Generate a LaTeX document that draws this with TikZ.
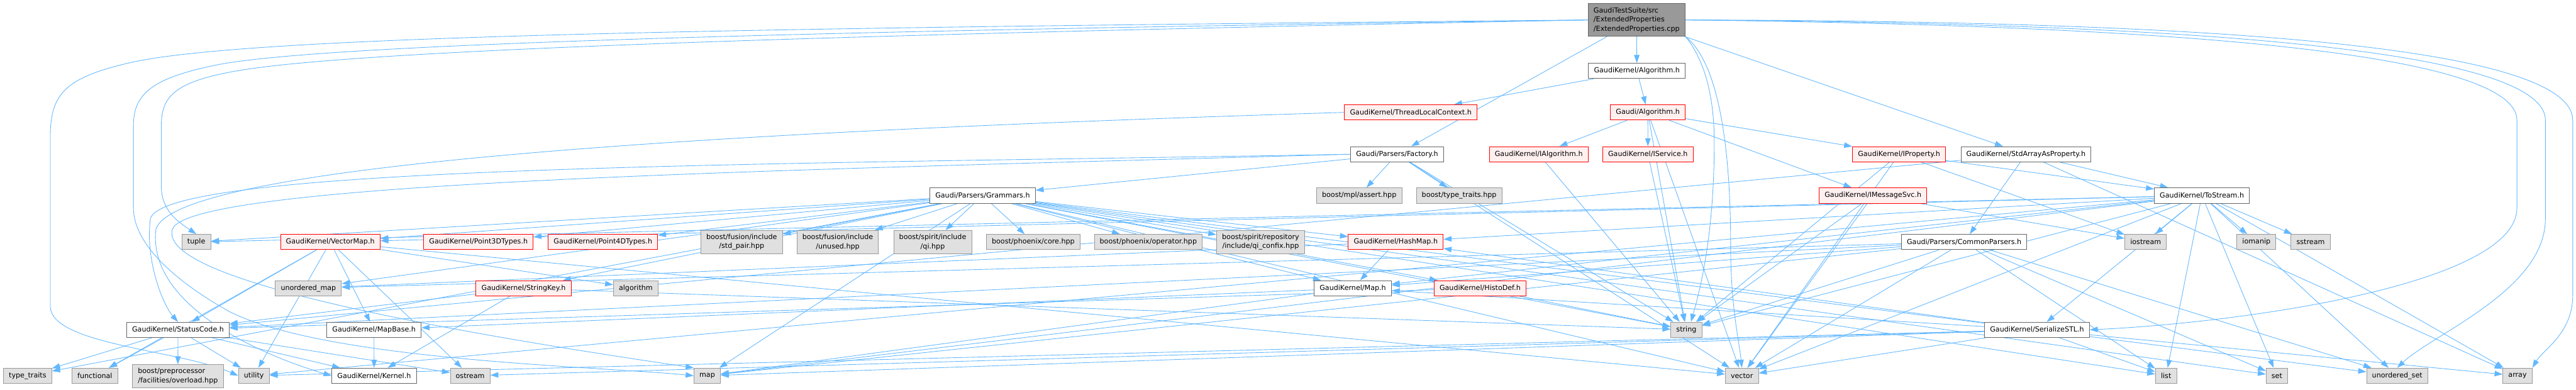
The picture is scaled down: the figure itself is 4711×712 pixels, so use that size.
\documentclass[tikz,border=0pt]{standalone}
\usepackage{fontspec}
\setmainfont{DejaVu Sans}
\usepackage{tikz}
\usetikzlibrary{arrows.meta, backgrounds}
\usepackage{xcolor}
\definecolor{edgeblue}{RGB}{99, 184, 255}
\definecolor{sysfill}{RGB}{224, 224, 224}
\definecolor{sysdraw}{RGB}{153, 153, 153}
\definecolor{srcdraw}{RGB}{102, 102, 102}
\definecolor{trunfill}{RGB}{255, 240, 240}
\definecolor{rootfill}{RGB}{153, 153, 153}

\tikzset{
    incbox/.style={draw, rectangle, line width=0.8pt, font=\fontsize{9.6}{12.6}\selectfont,
        inner xsep=7.5pt, inner ysep=5pt, minimum height=21pt, align=center},
    sysbox/.style={incbox, fill=sysfill, draw=sysdraw},
    srcbox/.style={incbox, fill=white, draw=srcdraw},
    trunbox/.style={incbox, fill=trunfill, draw=red},
    rootbox/.style={incbox, fill=rootfill, draw=srcdraw, align=left},
    dep/.style={draw=edgeblue, line width=0.75pt, -{Triangle[length=11pt, width=7.5pt]}}
}

\begin{document}
\begin{tikzpicture}[x=0.75pt, y=-0.75pt]
    \useasboundingbox (0,0) rectangle (4711,712);

    % file nodes, by rank
    \node[rootbox] (root) at (2993,36.5) {GaudiTestSuite/src\\/ExtendedProperties\\/ExtendedProperties.cpp};
    \node[srcbox] (gkalg) at (2993.5,129.7) {GaudiKernel/Algorithm.h};
    \node[trunbox] (tlc) at (2580,205.5) {GaudiKernel/ThreadLocalContext.h};
    \node[trunbox] (galg) at (3013.5,205.5) {Gaudi/Algorithm.h};
    \node[srcbox] (factory) at (2555,282) {Gaudi/Parsers/Factory.h};
    \node[trunbox] (ialg) at (2814,282) {GaudiKernel/IAlgorithm.h};
    \node[trunbox] (isvc) at (3013.7,282) {GaudiKernel/IService.h};
    \node[trunbox] (iprop) at (3473,282) {GaudiKernel/IProperty.h};
    \node[srcbox] (stdarr) at (3705,282) {GaudiKernel/StdArrayAsProperty.h};
    \node[sysbox] (mplassert) at (2485.7,357.5) {boost/mpl/assert.hpp};
    \node[sysbox] (btt) at (2668.4,357.5) {boost/type\_traits.hpp};
    \node[srcbox] (grammars) at (1797,357.5) {Gaudi/Parsers/Grammars.h};
    \node[trunbox] (imsg) at (3425.4,357.5) {GaudiKernel/IMessageSvc.h};
    \node[srcbox] (tostream) at (4026.8,357.5) {GaudiKernel/ToStream.h};
    \node[sysbox] (tuple) at (359,442.5) {tuple};
    \node[trunbox] (vmap) at (604,442.5) {GaudiKernel/VectorMap.h};
    \node[trunbox] (p3d) at (875,442.5) {GaudiKernel/Point3DTypes.h};
    \node[trunbox] (p4d) at (1102.7,442.5) {GaudiKernel/Point4DTypes.h};
    \node[sysbox] (stdpair) at (1356.3,442.5) {boost/fusion/include\\/std\_pair.hpp};
    \node[sysbox] (unused) at (1532,442.5) {boost/fusion/include\\/unused.hpp};
    \node[sysbox] (qi) at (1705.7,442.5) {boost/spirit/include\\/qi.hpp};
    \node[sysbox] (core) at (1889.6,442.5) {boost/phoenix/core.hpp};
    \node[sysbox] (phxop) at (2100,442.5) {boost/phoenix/operator.hpp};
    \node[sysbox] (confix) at (2305.4,442.5) {boost/spirit/repository\\/include/qi\_confix.hpp};
    \node[trunbox] (hashmap) at (2552.5,442.5) {GaudiKernel/HashMap.h};
    \node[srcbox] (commonp) at (3592,442.5) {Gaudi/Parsers/CommonParsers.h};
    \node[sysbox] (iostream) at (3924,442.5) {iostream};
    \node[sysbox] (iomanip) at (4126.5,442.5) {iomanip};
    \node[sysbox] (sstream) at (4225.6,442.5) {sstream};
    \node[sysbox] (umap) at (564,527) {unordered\_map};
    \node[trunbox] (strkey) at (957.5,527) {GaudiKernel/StringKey.h};
    \node[sysbox] (algo) at (1162.7,527) {algorithm};
    \node[srcbox] (gmap) at (2474,527) {GaudiKernel/Map.h};
    \node[trunbox] (histodef) at (2706.8,527) {GaudiKernel/HistoDef.h};
    \node[srcbox] (statuscode) at (325.5,603) {GaudiKernel/StatusCode.h};
    \node[srcbox] (mapbase) at (684,603) {GaudiKernel/MapBase.h};
    \node[sysbox] (string) at (3084,603) {string};
    \node[srcbox] (serialize) at (3725.3,603) {GaudiKernel/SerializeSTL.h};
    \node[sysbox] (typetraits) at (50.5,687) {type\_traits};
    \node[sysbox] (functional) at (173.5,687) {functional};
    \node[sysbox, align=left] (overload) at (325.3,688) {boost/preprocessor\\/facilities/overload.hpp};
    \node[sysbox] (utility) at (464.3,687) {utility};
    \node[srcbox] (kernel) at (684.2,687) {GaudiKernel/Kernel.h};
    \node[sysbox] (ostream) at (859.8,687) {ostream};
    \node[sysbox] (map) at (1293.3,687) {map};
    \node[sysbox] (vector) at (3185.5,687) {vector};
    \node[sysbox] (list) at (3961.3,687) {list};
    \node[sysbox] (set) at (4164,687) {set};
    \node[sysbox] (uset) at (4384,687) {unordered\_set};
    \node[sysbox] (array) at (4604,687) {array};

    \begin{pgfonlayer}{background}
    \fill[white] (0,0) rectangle (4711,712);

    % includes of the test file
    \foreach \dst in {gkalg, factory, stdarr} \draw[dep] (root) -- (\dst);
    \draw[dep] (root.south east) .. controls (3110,100) and (3135,160) .. (3135,260)
        .. controls (3135,420) and (3112,520) .. (string.60);
    \draw[dep] (root.south east) .. controls (3150,120) and (3165,300) .. (3165,450)
        .. controls (3165,560) and (3180,620) .. (vector.north);
    \draw[dep] (root.west) .. controls (1500,50) and (500,62) .. (250,112)
        .. controls (120,140) and (92,170) .. (92,250) -- (92,560)
        .. controls (92,630) and (330,640) .. (utility.west);
    \draw[dep] (root.west) .. controls (1500,56) and (600,80) .. (400,118)
        .. controls (280,142) and (244,170) .. (244,230) -- (244,380)
        .. controls (244,450) and (330,520) .. (420,570)
        .. controls (600,660) and (1100,670) .. (map.west);
    \draw[dep] (root.west) .. controls (1500,64) and (620,92) .. (420,132)
        .. controls (315,152) and (295,180) .. (295,230) -- (295,340)
        .. controls (295,385) and (325,405) .. (tuple.north);
    \draw[dep] (root.east) .. controls (3800,45) and (4603,80) .. (4603,220) -- (4603,380)
        .. controls (4603,520) and (4100,590) .. (serialize.east);
    \draw[dep] (root.east) .. controls (3900,42) and (4655,80) .. (4655,220) -- (4655,400)
        .. controls (4655,530) and (4450,610) .. (uset.north);
    \draw[dep] (root.east) .. controls (4000,38) and (4705,80) .. (4705,220) -- (4705,540)
        .. controls (4705,610) and (4650,640) .. (array.north east);

    % algorithm side
    \foreach \dst in {galg, tlc} \draw[dep] (gkalg) -- (\dst);
    \draw[dep] (tlc.west) .. controls (1500,235) and (320,290) .. (285,420)
        .. controls (270,560) and (480,650) .. (kernel.west);
    \foreach \dst in {ialg, isvc, iprop, imsg, string, vector} \draw[dep] (galg) -- (\dst);
    \foreach \src in {ialg, isvc} \draw[dep] (\src) -- (string);
    \foreach \dst in {string, vector, iostream, tostream} \draw[dep] (iprop) -- (\dst);
    \foreach \dst in {string, vector, iostream} \draw[dep] (imsg) -- (\dst);

    % parsers
    \foreach \dst in {grammars, mplassert, btt, string, vector} \draw[dep] (factory) -- (\dst);
    \draw[dep] (factory.west) .. controls (1500,300) and (300,300) .. (275,400)
        .. controls (265,480) and (300,560) .. (statuscode.north);
    \draw[dep] (factory.west) .. controls (1500,310) and (340,330) .. (315,420)
        .. controls (300,480) and (500,560) .. (map.north west);
    \foreach \dst in {commonp, tostream, array, statuscode} \draw[dep] (stdarr) -- (\dst);
    \foreach \dst in {tuple, vmap, p3d, p4d, stdpair, unused, qi, core, phxop, confix, hashmap,
        strkey, gmap, histodef, string, vector, list, set, map, umap, uset, typetraits}
        \draw[dep] (grammars) -- (\dst);
    \foreach \dst in {statuscode, gmap, string, vector, list, set, map, umap, uset}
        \draw[dep] (commonp) -- (\dst);

    % kernel helpers
    \foreach \dst in {algo, functional, ostream, utility, vector, mapbase, statuscode}
        \draw[dep] (vmap) -- (\dst);
    \foreach \dst in {gmap, umap} \draw[dep] (hashmap) -- (\dst);
    \foreach \dst in {map, mapbase} \draw[dep] (gmap) -- (\dst);
    \foreach \dst in {string, statuscode} \draw[dep] (histodef) -- (\dst);
    \foreach \dst in {kernel, string, statuscode} \draw[dep] (strkey) -- (\dst);
    \foreach \dst in {typetraits, functional, overload, utility, kernel, ostream}
        \draw[dep] (statuscode) -- (\dst);
    \draw[dep] (mapbase) -- (kernel);
    \foreach \dst in {array, list, map, ostream, utility, vector, hashmap, gmap}
        \draw[dep] (serialize) -- (\dst);
    \foreach \dst in {iostream, iomanip, sstream, list, set, uset, array, serialize, string,
        vector, map, hashmap, gmap, vmap, tuple, utility}
        \draw[dep] (tostream) -- (\dst);
    \end{pgfonlayer}
\end{tikzpicture}
\end{document}
